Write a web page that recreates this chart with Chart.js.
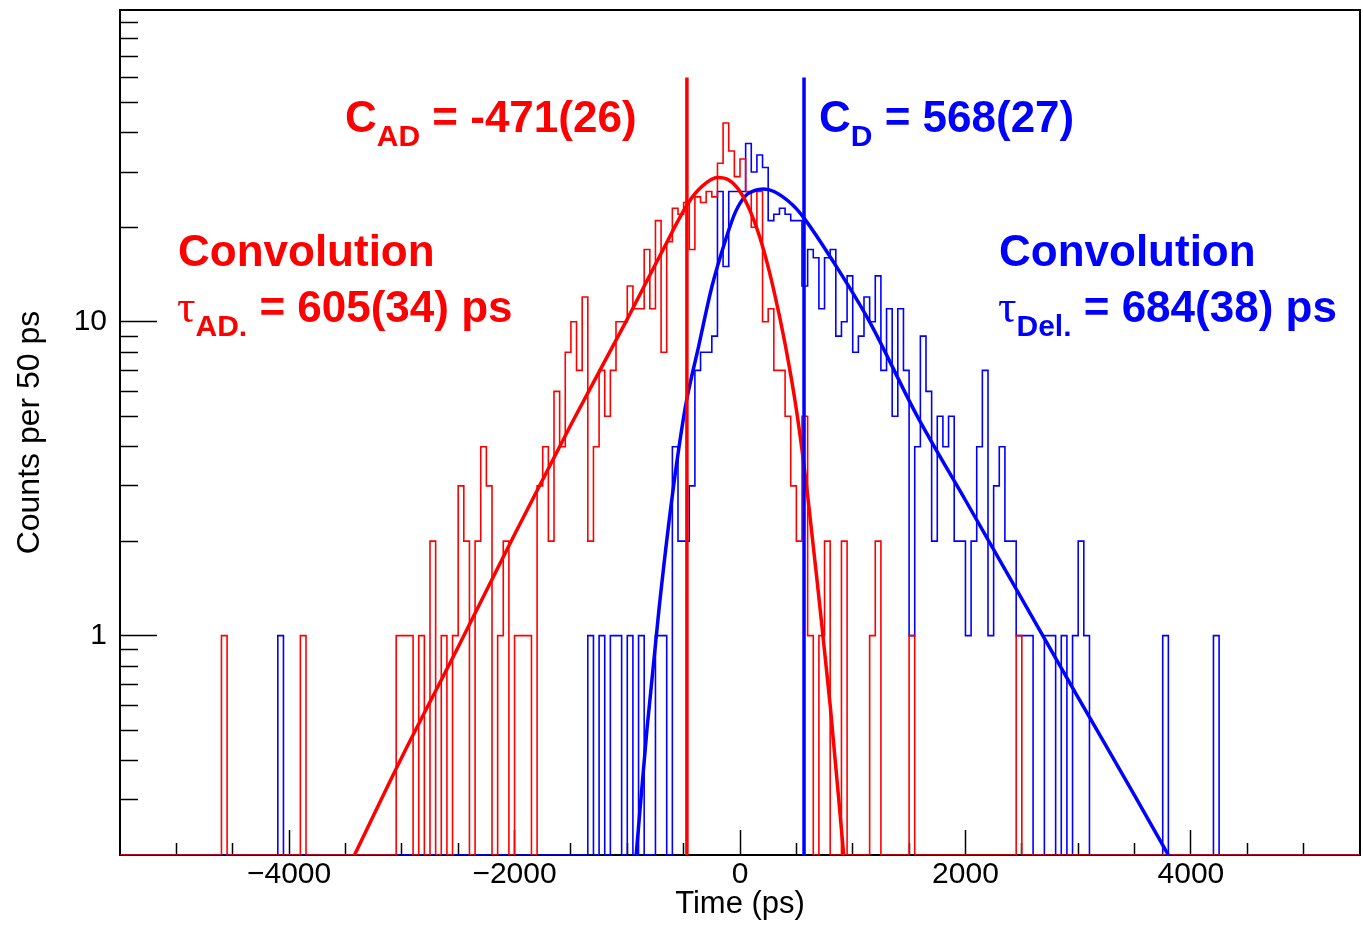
<!DOCTYPE html>
<html lang="en">
<head>
<meta charset="UTF-8">
<title>Counts per 50 ps vs Time (ps)</title>
<script src="https://cdn.jsdelivr.net/npm/chart.js"></script>
<style>
    html, body {
        margin: 0;
        padding: 0;
        background: #fff;
        overflow: hidden;
    }
    canvas {
        display: block;
    }
</style>
</head>
<body>
<canvas id="myChart" width="1363" height="926"></canvas>
<script>
    // binning of both histograms (ps)
    const xMin = -5500, xMax = 5500, binWidth = 50;
    const yMin = 0.2, yMax = 98.5;

    // counts per 50 ps bin, first bin starts at xMin, one row = 500 ps
    const redCounts = [
        0, 0, 0, 0, 0, 0, 0, 0, 0, 0,          // -5500
        0, 0, 0, 0, 0, 0, 0, 0, 1, 0,          // -5000
        0, 0, 0, 0, 0, 0, 0, 0, 0, 0,          // -4500
        0, 0, 1, 0, 0, 0, 0, 0, 0, 0,          // -4000
        0, 0, 0, 0, 0, 0, 0, 0, 0, 1,          // -3500
        1, 1, 0, 1, 0, 2, 0, 1, 0, 1,          // -3000
        3, 2, 0, 2, 4, 3, 0, 1, 2, 0,          // -2500
        1, 1, 1, 0, 3, 4, 2, 6, 4, 8,          // -2000
        10, 7, 12, 2, 4, 7, 5, 7, 10, 10,      // -1500
        13, 11, 11, 17, 11, 21, 8, 18, 23, 22, // -1000
        24, 17, 25, 24, 26, 25, 32, 43, 35, 29, // -500
        33, 26, 20, 26, 10, 11, 7, 7, 5, 3,    // 0
        2, 5, 1, 0, 1, 2, 0, 0, 2, 0,          // 500
        0, 0, 0, 1, 2, 0, 0, 0, 0, 0,          // 1000
        1, 0, 0, 0, 0, 0, 0, 0, 0, 0,          // 1500
        0, 0, 0, 0, 0, 0, 0, 0, 0, 1,          // 2000
        0, 0, 0, 0, 0, 0, 0, 0, 0, 0,          // 2500
        0, 0, 0, 0, 0, 0, 0, 0, 0, 0,          // 3000
        0, 0, 0, 0, 0, 0, 0, 0, 0, 0,          // 3500
        0, 0, 0, 0, 0, 0, 0, 0, 0, 0,          // 4000
        0, 0, 0, 0, 0, 0, 0, 0, 0, 0,          // 4500
        0, 0, 0, 0, 0, 0, 0, 0, 0, 0           // 5000
    ];

    const blueCounts = [
        0, 0, 0, 0, 0, 0, 0, 0, 0, 0,          // -5500
        0, 0, 0, 0, 0, 0, 0, 0, 0, 0,          // -5000
        0, 0, 0, 0, 0, 0, 0, 0, 1, 0,          // -4500
        0, 0, 0, 0, 0, 0, 0, 0, 0, 0,          // -4000
        0, 0, 0, 0, 0, 0, 0, 0, 0, 0,          // -3500
        0, 0, 0, 0, 0, 0, 0, 0, 0, 0,          // -3000
        0, 0, 0, 0, 0, 0, 0, 0, 0, 0,          // -2500
        0, 0, 0, 0, 0, 0, 0, 0, 0, 0,          // -2000
        0, 0, 0, 1, 0, 1, 0, 1, 1, 0,          // -1500
        1, 0, 1, 0, 0, 1, 1, 0, 4, 2,          // -1000
        2, 3, 7, 8, 8, 9, 26, 15, 26, 26,      // -500
        26, 37, 30, 34, 31, 21, 22, 23, 22, 21, // 0
        21, 13, 17, 16, 11, 16, 17, 9, 10, 14, // 500
        8, 9, 12, 10, 14, 7, 11, 5, 11, 7,     // 1000
        1, 4, 9, 6, 2, 5, 4, 5, 2, 2,          // 1500
        1, 2, 4, 7, 1, 3, 4, 2, 2, 1,          // 2000
        1, 1, 0, 0, 1, 1, 0, 1, 0, 1,          // 2500
        2, 1, 0, 0, 0, 0, 0, 0, 0, 0,          // 3000
        0, 0, 0, 0, 0, 1, 0, 0, 0, 0,          // 3500
        0, 0, 0, 0, 1, 0, 0, 0, 0, 0,          // 4000
        0, 0, 0, 0, 0, 0, 0, 0, 0, 0,          // 4500
        0, 0, 0, 0, 0, 0, 0, 0, 0, 0           // 5000
    ];

    // convolution fit curves
    const redFitTime   = [-3420, -3000, -2500, -2000, -1500, -1000, -700, -456, -337, -198, -100, 0, 100, 200, 300, 400, 500, 600, 700, 800, 920];
    const redFitCounts = [0.2, 0.41, 0.92, 2.1, 4.7, 10.2, 16.5, 24.0, 27.0, 28.8, 28.3, 26.0, 22.1, 17.4, 12.6, 8.5, 5.25, 2.8, 1.32, 0.6, 0.2];

    const blueFitTime   = [-921, -826, -720, -604, -485, -367, -248, -129, -40, 49, 130, 212, 301, 465, 568, 850, 1150, 1560, 2000, 2500, 3000, 3500, 3800];
    const blueFitCounts = [0.2, 0.5, 1.2, 2.73, 5.34, 8.35, 13.0, 18.2, 22.4, 25.2, 26.2, 26.5, 26.0, 23.6, 21.4, 15.1, 10.0, 5.1, 2.7, 1.31, 0.635, 0.31, 0.2];

    // fitted centroids, drawn as vertical markers
    const centroidAD = -471, centroidD = 568;
    const markerTop = 60;

    const xMajorTicks = [-4000, -2000, 0, 2000, 4000];
    const xMinorTicks = [-5000, -4500, -3500, -3000, -2500, -1500, -1000, -500, 500, 1000, 1500, 2500, 3000, 3500, 4500, 5000];
    const yMajorTicks = [1, 10];
    const yMinorTicks = [0.3, 0.4, 0.5, 0.6, 0.7, 0.8, 0.9, 2, 3, 4, 5, 6, 7, 8, 9, 20, 30, 40, 50, 60, 70, 80, 90];

    const RED = '#ff0000';
    const BLUE = '#0000ff';
    const SANS = "'Liberation Sans', Arial, Helvetica, sans-serif";

    // empty bins go to the bottom of the frame, like ROOT does on a log axis
    function histPoints(counts) {
        const pts = counts.map((c, i) => ({ x: xMin + i * binWidth, y: c > 0 ? c : yMin }));
        pts.push({ x: xMin + counts.length * binWidth, y: pts[pts.length - 1].y });
        return pts;
    }

    function curvePoints(ts, ys) {
        return ts.map((t, i) => ({ x: t, y: ys[i] }));
    }

    function setTicks(list) {
        return scale => { scale.ticks = list.map(v => ({ value: v })); };
    }

    // fixed axis box sizes; the label padding must not push the frame inwards
    function fixSize(w, h) {
        return s => {
            if (w !== null) s.width = w;
            if (h !== null) s.height = h;
            s.paddingTop = 0;
            s.paddingBottom = 0;
            s.paddingLeft = 0;
            s.paddingRight = 0;
        };
    }

    // text with one subscript, e.g. C_AD = ...
    function drawSub(ctx, head, headFont, sub, rest, x, y, color) {
        ctx.fillStyle = color;
        ctx.font = headFont;
        ctx.fillText(head, x, y);
        x += ctx.measureText(head).width;
        ctx.font = 'bold 30px ' + SANS;
        ctx.fillText(sub, x, y + 14);
        x += ctx.measureText(sub).width;
        ctx.font = 'bold 44px ' + SANS;
        ctx.fillText(rest, x, y);
    }

    const fitLabels = {
        id: 'fitLabels',
        afterDatasetsDraw(chart) {
            const ctx = chart.ctx;
            const bold = 'bold 44px ' + SANS;
            const tau = "46px 'Liberation Serif', 'DejaVu Serif', serif";
            ctx.save();
            ctx.textBaseline = 'alphabetic';
            ctx.textAlign = 'left';

            drawSub(ctx, 'C', bold, 'AD', ' = -471(26)', 345, 132, RED);
            drawSub(ctx, 'C', bold, 'D', ' = 568(27)', 819, 132, BLUE);

            ctx.font = bold;
            ctx.fillStyle = RED;
            ctx.fillText('Convolution', 178, 266);
            ctx.fillStyle = BLUE;
            ctx.fillText('Convolution', 999, 266);

            drawSub(ctx, '\u03c4', tau, 'AD.', ' = 605(34) ps', 177, 322, RED);
            drawSub(ctx, '\u03c4', tau, 'Del.', ' = 684(38) ps', 998, 322, BLUE);
            ctx.restore();
        }
    };

    const tickFont = { family: SANS, size: 30, lineHeight: 1.2 };

    const ctx = document.getElementById('myChart').getContext('2d');
    const chart = new Chart(ctx, {
        type: 'line',
        data: {
            datasets: [
                {
                    label: 'centroid D',
                    data: [{ x: centroidD, y: yMin }, { x: centroidD, y: markerTop }],
                    borderColor: BLUE, borderWidth: 3.5, pointRadius: 0, order: 1
                },
                {
                    label: 'centroid AD',
                    data: [{ x: centroidAD, y: yMin }, { x: centroidAD, y: markerTop }],
                    borderColor: RED, borderWidth: 3.5, pointRadius: 0, order: 2
                },
                {
                    label: 'red fit',
                    data: curvePoints(redFitTime, redFitCounts),
                    borderColor: RED, borderWidth: 3.5, pointRadius: 0,
                    cubicInterpolationMode: 'monotone', order: 3
                },
                {
                    label: 'blue fit',
                    data: curvePoints(blueFitTime, blueFitCounts),
                    borderColor: BLUE, borderWidth: 3.5, pointRadius: 0,
                    cubicInterpolationMode: 'monotone', order: 4
                },
                {
                    label: 'AD histogram',
                    data: histPoints(redCounts),
                    borderColor: RED, borderWidth: 1.6, pointRadius: 0,
                    stepped: 'before', order: 5
                },
                {
                    label: 'Del. histogram',
                    data: histPoints(blueCounts),
                    borderColor: BLUE, borderWidth: 1.6, pointRadius: 0,
                    stepped: 'before', order: 6
                }
            ]
        },
        options: {
            responsive: false,
            animation: false,
            events: [],
            layout: { padding: { top: 10, right: 3, left: 0, bottom: 0 } },
            plugins: {
                legend: { display: false },
                tooltip: { enabled: false }
            },
            scales: {
                x: {
                    type: 'linear', position: 'bottom', weight: 1,
                    min: xMin, max: xMax,
                    afterFit: fixSize(null, 71),
                    afterBuildTicks: setTicks(xMajorTicks),
                    ticks: {
                        color: '#000', font: tickFont, padding: 27,
                        maxRotation: 0, autoSkip: false,
                        callback: v => v < 0 ? '\u2212' + (-v) : String(v)
                    },
                    grid: { drawOnChartArea: false, tickLength: -25, tickColor: '#000', tickWidth: 1.5 },
                    border: { display: true, color: '#000', width: 2 },
                    title: {
                        display: true, text: 'Time (ps)', color: '#000',
                        font: { family: SANS, size: 31, lineHeight: 1 },
                        padding: { top: 0, bottom: 6 }
                    }
                },
                xMinor: {
                    type: 'linear', position: 'bottom', weight: 0,
                    min: xMin, max: xMax,
                    afterFit: fixSize(null, 0),
                    afterBuildTicks: setTicks(xMinorTicks),
                    ticks: { display: false },
                    grid: { drawOnChartArea: false, tickLength: -12, tickColor: '#000', tickWidth: 1.5 },
                    border: { display: false }
                },
                y: {
                    type: 'logarithmic', position: 'left', weight: 1,
                    min: yMin, max: yMax,
                    afterFit: fixSize(120, null),
                    afterBuildTicks: setTicks(yMajorTicks),
                    ticks: {
                        color: '#000', font: tickFont, padding: 50,
                        callback: v => String(v)
                    },
                    grid: { drawOnChartArea: false, tickLength: -37, tickColor: '#000', tickWidth: 1.5 },
                    border: { display: true, color: '#000', width: 2 },
                    title: {
                        display: true, text: 'Counts per 50 ps', color: '#000',
                        font: { family: SANS, size: 32, lineHeight: 1 },
                        padding: { top: 14, bottom: 0 }
                    }
                },
                yMinor: {
                    type: 'logarithmic', position: 'left', weight: 0,
                    min: yMin, max: yMax,
                    afterFit: fixSize(0, null),
                    afterBuildTicks: setTicks(yMinorTicks),
                    ticks: { display: false },
                    grid: { drawOnChartArea: false, tickLength: -18, tickColor: '#000', tickWidth: 1.5 },
                    border: { display: false }
                },
                xTop: {
                    type: 'linear', position: 'top',
                    afterFit: fixSize(null, 0),
                    ticks: { display: false },
                    grid: { drawOnChartArea: false, drawTicks: false },
                    border: { display: true, color: '#000', width: 2 }
                },
                yRight: {
                    type: 'linear', position: 'right',
                    afterFit: fixSize(0, null),
                    ticks: { display: false },
                    grid: { drawOnChartArea: false, drawTicks: false },
                    border: { display: true, color: '#000', width: 2 }
                }
            }
        },
        plugins: [fitLabels]
    });
</script>
</body>
</html>
